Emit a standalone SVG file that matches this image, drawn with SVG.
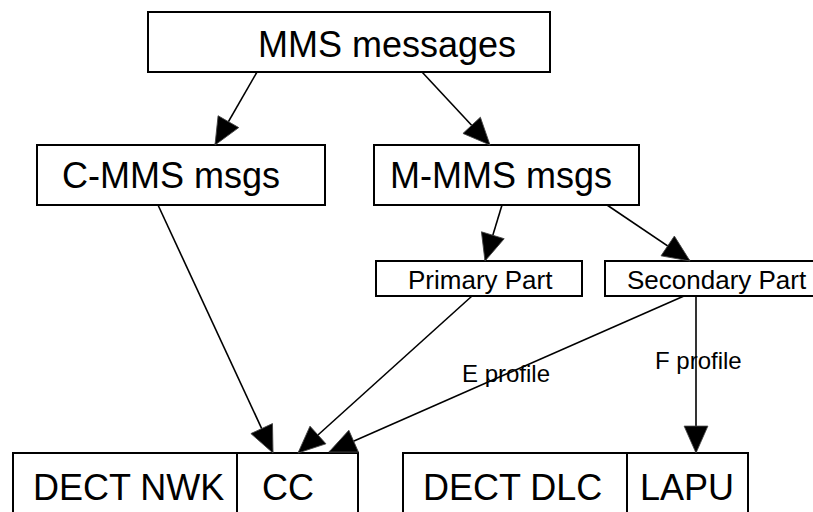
<svg xmlns="http://www.w3.org/2000/svg" width="813" height="512" viewBox="0 0 813 512">
<style>
.box{fill:#fff;stroke:#000;stroke-width:2}
.t{font-family:"Liberation Sans",Arial,sans-serif;fill:#000}
.big{font-size:36px}
.mid{font-size:26px}
.sm{font-size:24px}
.c{fill:none;stroke:#000;stroke-width:1.6}
</style>
<defs>
<marker id="ah" markerUnits="userSpaceOnUse" markerWidth="30" markerHeight="28" refX="26" refY="11.5" orient="auto" viewBox="-1 -1 29 25">
<path d="M0,0 L26,11.5 L0,23 Z" fill="#000" stroke="#444" stroke-width="0.8"/>
</marker>
</defs>
<rect width="813" height="512" fill="#fff"/>
<g id="n-mms">
<rect class="box" x="148" y="12" width="402" height="60"/>
<text class="t big" x="258" y="57">MMS messages</text>
</g>
<g id="n-cmms">
<rect class="box" x="37" y="145" width="288" height="60"/>
<text class="t big" x="62" y="188">C-MMS msgs</text>
</g>
<g id="n-mmms">
<rect class="box" x="374" y="145" width="265" height="60"/>
<text class="t big" x="390" y="188">M-MMS msgs</text>
</g>
<g id="n-primary">
<rect class="box" x="376" y="261" width="206" height="35"/>
<text class="t mid" x="408" y="289">Primary Part</text>
</g>
<g id="n-secondary">
<rect class="box" x="605" y="261" width="212" height="35"/>
<text class="t mid" x="627" y="289">Secondary Part</text>
</g>
<g id="n-nwk">
<rect class="box" x="13" y="453" width="345" height="70"/>
<line x1="237" y1="453" x2="237" y2="512" stroke="#000" stroke-width="2"/>
<text class="t big" x="33" y="500">DECT NWK</text>
<text class="t big" x="262" y="500">CC</text>
</g>
<g id="n-dlc">
<rect class="box" x="403" y="453" width="345" height="70"/>
<line x1="627" y1="453" x2="627" y2="512" stroke="#000" stroke-width="2"/>
<text class="t big" x="423" y="500">DECT DLC</text>
<text class="t big" x="640" y="500">LAPU</text>
</g>
<g id="connectors">
<line class="c" x1="257" y1="72" x2="215" y2="145" marker-end="url(#ah)"/>
<line class="c" x1="422" y1="72" x2="490" y2="145" marker-end="url(#ah)"/>
<line class="c" x1="158" y1="205" x2="273" y2="453" marker-end="url(#ah)"/>
<line class="c" x1="502" y1="205" x2="485" y2="261" marker-end="url(#ah)"/>
<line class="c" x1="607" y1="205" x2="690" y2="261" marker-end="url(#ah)"/>
<line class="c" x1="472" y1="296" x2="298" y2="453" marker-end="url(#ah)"/>
<line class="c" x1="684" y1="296" x2="329" y2="452" marker-end="url(#ah)"/>
<line class="c" x1="696" y1="296" x2="696" y2="453" marker-end="url(#ah)"/>
<text class="t sm" x="462" y="382">E profile</text>
<text class="t sm" x="655" y="369">F profile</text>
</g>
</svg>
